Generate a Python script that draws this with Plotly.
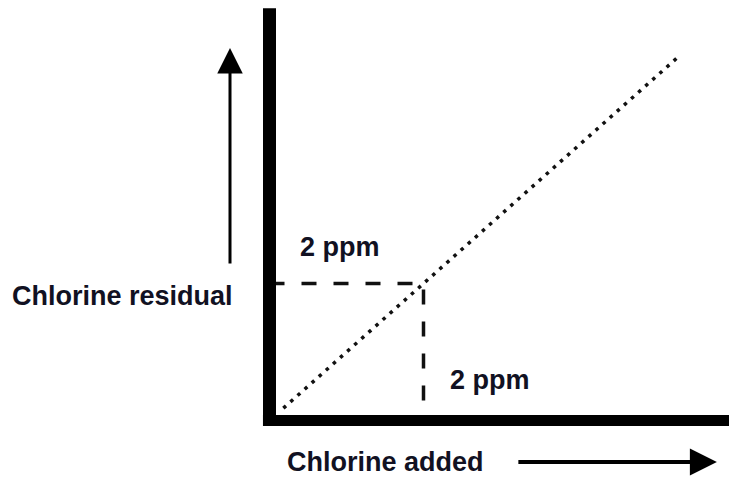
import plotly.graph_objects as go

# ---- data (units: ppm) ----
added_line = [0.18, 5.32]          # chlorine added (diagonal, 1:1 demand-free line)
residual_line = [0.18, 5.32]       # chlorine residual
breakpoint_x = [0, 2, 2]           # dashed guide: horizontal to 2 ppm, then down
breakpoint_y = [2, 2, 0.22]
x_label = "Chlorine added"
y_label = "Chlorine residual"
ppm_label = "2 ppm"

# pixel mapping helpers (scale of the drawing)
PX_X = 77.0   # pixels per ppm horizontally
PX_Y = 68.5   # pixels per ppm vertically
W, H = 737, 478
OFF = 8                      # page body margin
OX, OY = 269.5 - OFF, 420.5 - OFF  # origin pixel within the figure

xr = [-OX / PX_X, (W - OX) / PX_X]
yr = [(OY - H) / PX_Y, OY / PX_Y]

fig = go.Figure()

# dotted diagonal
fig.add_trace(go.Scatter(x=added_line, y=residual_line, mode="lines",
                         line=dict(color="#111", width=3.5, dash="3.5px,6px"),
                         hoverinfo="skip", showlegend=False))
# dashed guide
fig.add_trace(go.Scatter(x=breakpoint_x, y=breakpoint_y, mode="lines",
                         line=dict(color="#111", width=3.5, dash="15px,17px"),
                         hoverinfo="skip", showlegend=False))

# thick axis lines
fig.add_shape(type="line", xref="x", yref="y", x0=0, x1=0, y0=-0.08, y1=6.02,
              line=dict(color="black", width=13))
fig.add_shape(type="line", xref="x", yref="y", x0=-0.085, x1=6.4, y0=0, y1=0,
              line=dict(color="black", width=11))

font = dict(family="Liberation Sans, Arial, sans-serif", size=27, color="#111122", weight="bold")

# labels
fig.add_annotation(x=-1.91, y=1.818, text=y_label, showarrow=False, font=font,
                   xanchor="center", yanchor="middle")
fig.add_annotation(x=1.50, y=-0.606, text=x_label, showarrow=False, font=font,
                   xanchor="center", yanchor="middle")
fig.add_annotation(x=0.92, y=2.53, text=ppm_label, showarrow=False, font=font,
                   xanchor="center", yanchor="middle")
fig.add_annotation(x=2.87, y=0.59, text=ppm_label, showarrow=False, font=font,
                   xanchor="center", yanchor="middle")

# arrows
fig.add_annotation(x=-0.513, y=5.438, ax=0, ay=217, text="", showarrow=True,
                   arrowhead=2, arrowwidth=3, arrowsize=1.7, arrowcolor="black")
fig.add_annotation(x=5.81, y=-0.606, ax=-200, ay=0, text="", showarrow=True,
                   arrowhead=2, arrowwidth=4, arrowsize=1.35, arrowcolor="black")

fig.update_layout(
    width=W, height=H,
    margin=dict(l=0, r=0, t=0, b=0),
    paper_bgcolor="white", plot_bgcolor="white",
    xaxis=dict(range=xr, visible=False, fixedrange=True),
    yaxis=dict(range=yr, visible=False, fixedrange=True),
)

fig.write_html("out.html")
